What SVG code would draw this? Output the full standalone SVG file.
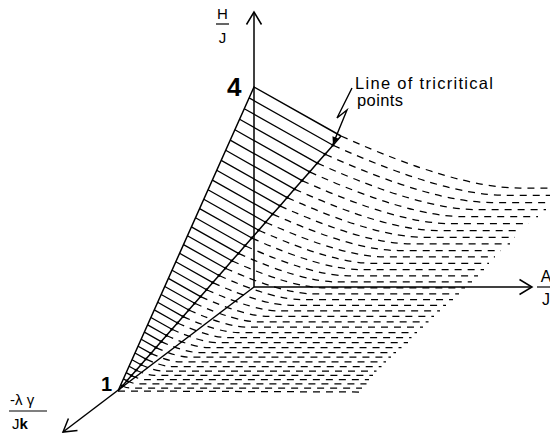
<svg xmlns="http://www.w3.org/2000/svg" width="550" height="436" viewBox="0 0 550 436">
<style>
.ax{stroke:#000;stroke-width:1.5;fill:none}
.edge{stroke:#000;stroke-width:1.5;fill:none}
.hatch{stroke:#000;stroke-width:1.3;fill:none}
.dash{stroke:#000;stroke-width:1.25;fill:none;stroke-dasharray:7 6}
text{font-family:"Liberation Sans",Arial,sans-serif;fill:#000}
</style>
<defs>
<marker id="ah" markerUnits="userSpaceOnUse" markerWidth="20" markerHeight="20" viewBox="-16 -10 20 20" refX="0" refY="0" orient="auto" overflow="visible"><path d="M-12.5,-7.5 L0,0 L-12.5,7.5" fill="none" stroke="#000" stroke-width="1.5"/></marker>
<marker id="la" markerUnits="userSpaceOnUse" markerWidth="10" markerHeight="10" viewBox="-8 -5 10 10" refX="0" refY="0" orient="auto" overflow="visible"><path d="M-7,-3.5 L0,0 L-7,3.5 Z" fill="#000"/></marker>
<marker id="dot" markerUnits="userSpaceOnUse" markerWidth="4" markerHeight="4" viewBox="-2 -2 4 4" refX="0" refY="0" overflow="visible"><circle r="1.4" fill="#000"/></marker>
</defs>
<rect width="550" height="436" fill="#fff"/>

<g id="surface">
<path class="dash" d="M118,391 L359,392
M122.4,386 Q126.8,388 129.3,388 L362,388
M126.9,380.8 Q133.8,383.9 137.6,383.9 L366.5,383.9
M131.5,375.6 Q140.6,379.7 145.6,379.7 L369,379.7
M136.2,370.2 Q147.8,375.4 154.1,375.4 L373,375.4
M141,364.7 Q155,371 162.7,371 L376.5,371
M145.9,359.1 Q162.3,366.5 171.4,366.5 L381.5,366.5
M150.9,353.4 Q169.8,361.9 180.2,361.9 L386,361.9
M156,347.6 Q177.3,357.2 189.1,357.2 L391,357.2
M161.2,341.6 Q185.4,352.5 198.7,352.5 L396,352.5
M166.5,335.5 Q193.4,347.6 208.2,347.6 L401.5,347.6
M171.9,329.3 Q201.7,342.7 218.1,342.7 L408,342.7
M177.5,323 Q209.9,337.6 227.8,337.6 L411.5,337.6
M183.1,316.6 Q218.4,332.5 237.9,332.5 L417,332.5
M188.8,310 Q227,327.2 248,327.2 L423,327.2
M194.7,303.3 Q236,321.9 258.8,321.9 L428.5,321.9
M200.6,296.6 Q244.6,316.4 268.8,316.4 L434,316.4
M206.6,289.7 Q253.7,310.9 279.6,310.9 L440,310.9
M212.8,282.6 Q263.2,305.3 291,305.3 L446,305.3
M219,275.5 Q272.6,299.6 302,299.6 L453,299.6
M225.4,268.2 Q282.3,293.8 313.6,293.8 L459,293.8
M231.8,260.8 Q292,287.9 325.1,287.9 L465,287.9
M238.4,253.4 Q301.7,281.9 336.6,281.9 L472,281.9
M245,245.7 Q311.9,275.8 348.7,275.8 L478,275.8
M251.8,238 Q322,269.6 360.6,269.6 L484,269.6
M258.7,230.2 Q332.3,263.3 372.7,263.3 L489,263.3
M265.6,222.2 Q342.7,256.9 385.1,256.9 L495,256.9
M272.7,214.1 Q353.6,250.5 398.1,250.5 L501,250.5
M279.9,205.9 Q364.3,243.9 410.8,243.9 L510,243.9
M287.2,197.6 Q375.4,237.3 423.9,237.3 L515,237.3
M294.5,189.1 Q386.5,230.5 437.1,230.5 L521,230.5
M302,180.6 Q397.6,223.6 450.1,223.6 L529,223.6
M309.6,171.9 Q409.2,216.7 463.9,216.7 L538,216.7
M317.3,163.1 Q420.8,209.7 477.8,209.7 L546,209.7
M325.1,154.2 Q432.4,202.5 491.4,202.5 L551,202.5
M333,145.2 Q444.3,195.3 505.5,195.3 L556,195.3
M341,136 Q456.6,188 520.1,188 L560,188"/>
</g>

<g id="hatched-region">
<path class="hatch" d="M120.7,385 L122.4,386 M123.4,378.9 L126.9,380.8 M126.2,372.6 L131.5,375.6 M129.1,366.2 L136.2,370.2 M132,359.7 L141,364.7 M135,353 L145.9,359.1 M138.1,346.2 L150.9,353.4 M141.2,339.2 L156,347.6 M144.4,332.1 L161.2,341.6 M147.6,324.9 L166.5,335.5 M150.9,317.5 L171.9,329.3 M154.3,309.9 L177.5,323 M157.7,302.3 L183.1,316.6 M161.2,294.5 L188.8,310 M164.8,286.5 L194.7,303.3 M168.4,278.4 L200.6,296.6 M172.1,270.2 L206.6,289.7 M175.8,261.8 L212.8,282.6 M179.6,253.3 L219,275.5 M183.5,244.6 L225.4,268.2 M187.4,235.8 L231.8,260.8 M191.4,226.9 L238.4,253.4 M195.5,217.8 L245,245.7 M199.6,208.6 L251.8,238 M203.8,199.2 L258.7,230.2 M208,189.7 L265.6,222.2 M212.4,180.1 L272.7,214.1 M216.7,170.3 L279.9,205.9 M221.2,160.4 L287.2,197.6 M225.7,150.3 L294.5,189.1 M230.2,140.1 L302,180.6 M234.9,129.8 L309.6,171.9 M239.6,119.3 L317.3,163.1 M244.3,108.7 L325.1,154.2 M249.1,97.9 L333,145.2"/>
<path class="edge" d="M118,391 L254,87 L341,136"/>
<polyline id="tricritical-line" class="edge" marker-mid="url(#dot)" points="118,391 122.4,386 126.9,380.8 131.5,375.6 136.2,370.2 141,364.7 145.9,359.1 150.9,353.4 156,347.6 161.2,341.6 166.5,335.5 171.9,329.3 177.5,323 183.1,316.6 188.8,310 194.7,303.3 200.6,296.6 206.6,289.7 212.8,282.6 219,275.5 225.4,268.2 231.8,260.8 238.4,253.4 245,245.7 251.8,238 258.7,230.2 265.6,222.2 272.7,214.1 279.9,205.9 287.2,197.6 294.5,189.1 302,180.6 309.6,171.9 317.3,163.1 325.1,154.2 333,145.2 341,136"/>
</g>

<g id="axes">
<line class="ax" x1="254" y1="287" x2="254" y2="12" marker-end="url(#ah)"/>
<line class="ax" x1="254" y1="287" x2="532" y2="287" marker-end="url(#ah)"/>
<line class="ax" x1="254" y1="287" x2="63" y2="432" marker-end="url(#ah)"/>
</g>

<g id="connectors">
<path d="M352,88 L337,118 L347,110 L333,144" fill="none" stroke="#000" stroke-width="1.4" marker-end="url(#la)"/>
</g>

<g id="label-H-J">
<text x="222.5" y="19" font-size="15" text-anchor="middle">H</text>
<line x1="216" y1="24" x2="229" y2="24" stroke="#000" stroke-width="1.2"/>
<text x="222.5" y="43" font-size="15" text-anchor="middle">J</text>
</g>
<g id="label-A-J">
<text x="546" y="282" font-size="16" text-anchor="middle">A</text>
<line x1="537" y1="287" x2="552" y2="287" stroke="#000" stroke-width="1.2"/>
<text x="546" y="305" font-size="16" text-anchor="middle">J</text>
</g>
<g id="label-lambda">
<text x="10" y="405" font-size="15">-λ γ</text>
<line x1="9" y1="411" x2="47" y2="411" stroke="#000" stroke-width="1.2"/>
<text x="12" y="429" font-size="15">J<tspan font-weight="bold">k</tspan></text>
</g>
<g id="point-4"><text x="227" y="96" font-size="26" font-weight="bold">4</text></g>
<g id="point-1"><text x="101" y="391" font-size="20" font-weight="bold">1</text></g>
<g id="label-tricritical">
<text x="355" y="88.5" font-size="16.5" textLength="138" lengthAdjust="spacing">Line of tricritical</text>
<text x="357" y="106" font-size="16.5" textLength="46" lengthAdjust="spacing">points</text>
</g>
</svg>
